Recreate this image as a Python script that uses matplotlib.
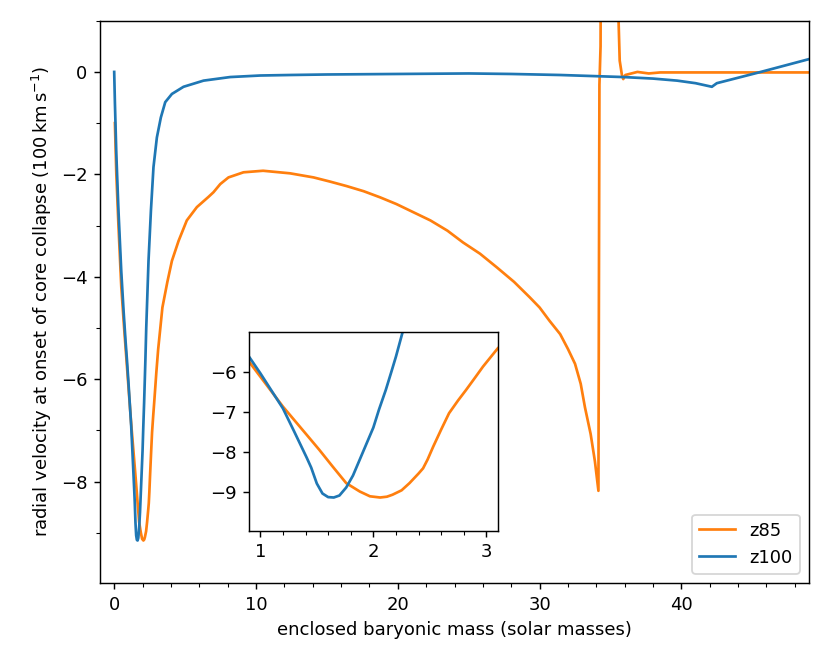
import matplotlib
matplotlib.use("Agg")
import matplotlib.pyplot as plt
from matplotlib.ticker import MultipleLocator

# === Data ===
z85_mass = [0.05, 0.15, 0.3, 0.5, 0.7, 0.9, 1.0, 1.2, 1.41, 1.52, 1.64, 1.76, 1.88, 1.97,
            2.06, 2.12, 2.17, 2.25, 2.32, 2.4, 2.44, 2.48, 2.53, 2.6, 2.67, 2.75, 2.82,
            2.9, 2.97, 3.1, 3.4, 3.75, 4.07, 4.54, 5.12, 5.83, 6.65, 7.0, 7.48, 8.06, 9.12,
            10.5, 12.4, 14.06, 15.2, 16.4, 17.6, 18.76, 19.9, 21.1, 22.3, 23.5, 24.6, 25.8,
            27.0, 28.2, 29.3, 30.0, 30.7, 31.45, 32.0, 32.5, 32.9, 33.2, 33.6, 33.9, 34.15,
            34.22, 34.3, 34.35, 35.5, 35.57, 35.65, 35.8, 35.9, 36.05, 36.9, 37.7, 38.5,
            49.0]
z85_vel = [-1.0, -2.0, -3.0, -4.2, -5.0, -5.75, -6.125, -6.875, -7.58, -7.95, -8.375, -8.79,
           -9.0, -9.12, -9.15, -9.13, -9.08, -8.97, -8.79, -8.55, -8.42, -8.2, -7.875,
           -7.45, -7.04, -6.72, -6.46, -6.15, -5.875, -5.42, -4.6, -4.1, -3.69, -3.3, -2.9,
           -2.64, -2.44, -2.35, -2.19, -2.06, -1.96, -1.93, -1.98, -2.06, -2.14, -2.23,
           -2.33, -2.45, -2.58, -2.74, -2.9, -3.1, -3.33, -3.55, -3.82, -4.1, -4.4, -4.6,
           -4.86, -5.12, -5.41, -5.7, -6.09, -6.55, -7.07, -7.6, -8.18, -0.25, 0.5, 5.0,
           5.0, 1.0, 0.22, -0.05, -0.14, -0.06, 0.0, -0.03, -0.01, -0.01]

z100_mass = [0.0, 0.05, 0.15, 0.3, 0.5, 0.66, 0.8, 0.9, 1.0, 1.1, 1.2, 1.3, 1.41, 1.45, 1.5,
             1.55, 1.6, 1.65, 1.7, 1.76, 1.82, 1.88, 1.94, 2.0, 2.05, 2.11, 2.16, 2.2, 2.26,
             2.42, 2.59, 2.77, 3.01, 3.29, 3.6, 4.07, 4.89, 6.3, 8.18, 10.3, 12.4, 15.0,
             20.0, 25.0, 28.0, 31.45, 35.9, 38.0, 39.7, 41.0, 42.15, 42.5, 45.6, 49.0]
z100_vel = [0.0, -0.6, -1.6, -2.7, -3.9, -4.66, -5.25, -5.625, -6.04, -6.48, -6.92, -7.5,
            -8.15, -8.4, -8.8, -9.05, -9.14, -9.15, -9.1, -8.9, -8.6, -8.2, -7.8, -7.4,
            -6.95, -6.46, -6.0, -5.625, -5.0, -3.69, -2.71, -1.86, -1.28, -0.89, -0.59,
            -0.43, -0.29, -0.17, -0.1, -0.07, -0.06, -0.05, -0.04, -0.03, -0.04, -0.06,
            -0.1, -0.13, -0.17, -0.22, -0.29, -0.22, 0.0, 0.25]

# === Figure ===
fig = plt.figure(figsize=(6.4, 5.12), dpi=129.6875)
ax = fig.add_axes([0.1205, 0.122, 0.8542, 0.8468])

ax.plot(z85_mass, z85_vel, color="C1", label="z85")
ax.plot(z100_mass, z100_vel, color="C0", label="z100")
ax.set_xlim(-1, 49)
ax.set_ylim(-9.98, 1)
ax.xaxis.set_major_locator(MultipleLocator(10))
ax.xaxis.set_minor_locator(MultipleLocator(2))
ax.yaxis.set_major_locator(MultipleLocator(2))
ax.yaxis.set_minor_locator(MultipleLocator(1))
ax.set_xlabel("enclosed baryonic mass (solar masses)")
ax.set_ylabel(r"radial velocity at onset of core collapse (100$\,\mathrm{km}\,\mathrm{s}^{-1}$)")
ax.legend(loc="lower right")

# inset zoom on the minimum
axin = fig.add_axes([0.3, 0.2008, 0.2996, 0.2997])
axin.plot(z85_mass, z85_vel, color="C1")
axin.plot(z100_mass, z100_vel, color="C0")
axin.set_xlim(0.9, 3.1)
axin.set_ylim(-9.98, -5)
axin.xaxis.set_major_locator(MultipleLocator(1))
axin.xaxis.set_minor_locator(MultipleLocator(0.2))
axin.set_yticks([-6, -7, -8, -9])

fig.savefig("out.png", dpi=129.6875)
